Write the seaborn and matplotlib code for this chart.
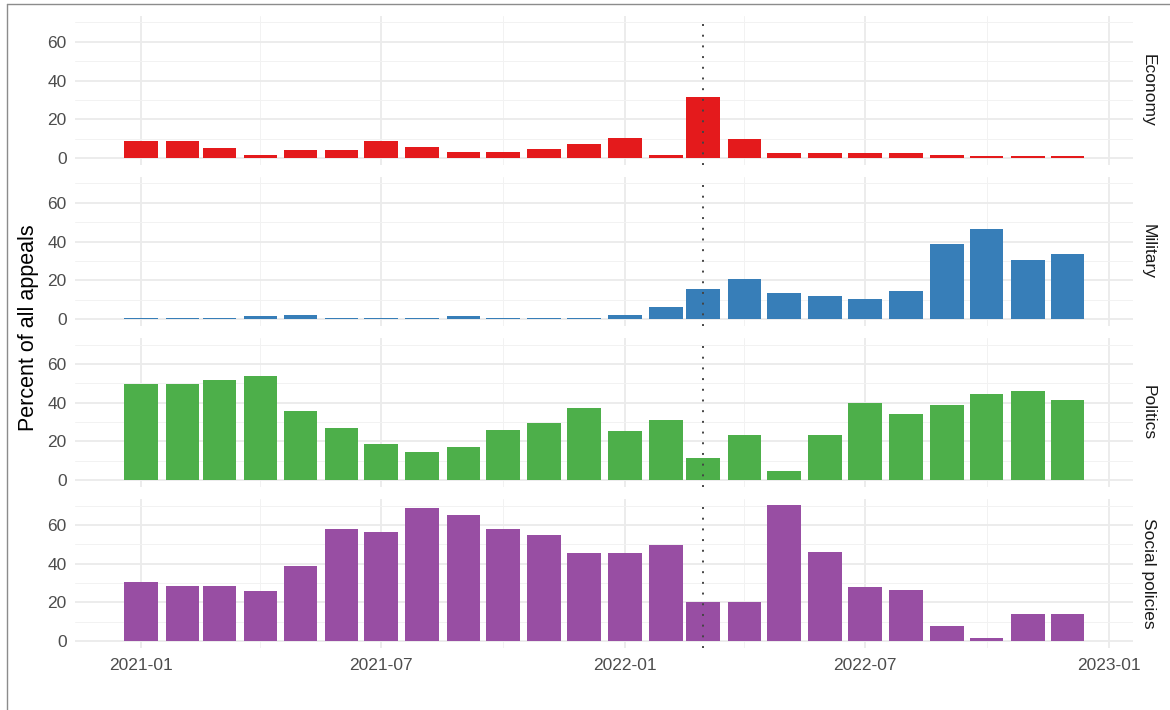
import pandas as pd
import matplotlib
matplotlib.use("Agg")
import matplotlib.pyplot as plt
import matplotlib.dates as mdates
from matplotlib.lines import Line2D
from matplotlib.ticker import MultipleLocator
import seaborn as sns

# monthly share of appeals by topic
months = pd.date_range("2021-01-01", "2022-12-01", freq="MS")
topics = ["Economy", "Military", "Politics", "Social policies"]
economy = [9, 9, 5, 1.7, 3.9, 3.9, 8.9, 5.7, 3.3, 3.3, 4.8, 7.2,
           10.5, 1.5, 31.4, 9.6, 2.4, 2.4, 2.4, 2.4, 1.5, 0.9, 0.9, 0.9]
military = [0.7, 0.3, 0.7, 1.4, 2.2, 0.7, 0.7, 0.7, 1.4, 0.7, 0.7, 0.5,
            2.2, 6.2, 15.3, 20.9, 13.6, 12.1, 10.3, 14.5, 38.8, 46.7, 30.7, 33.8]
politics = [49.7, 49.7, 51.9, 53.8, 35.9, 26.9, 18.6, 14.7, 17.1, 26.0, 29.3, 37.4,
            25.2, 30.9, 11.4, 23.4, 4.8, 23.4, 39.8, 34.1, 39.0, 44.7, 46.2, 41.4]
social = [30.7, 28.3, 28.3, 25.9, 38.6, 58.1, 56.6, 68.6, 65.4, 58.1, 55.1, 45.3,
          45.3, 49.9, 20.1, 20.1, 70.3, 46.0, 28.1, 26.6, 7.9, 1.5, 14.2, 14.2]
colors = ["#E41A1C", "#377EB8", "#4DAF4A", "#984EA3"]
event_date = pd.Timestamp("2022-03-01")

df = pd.concat([
    pd.DataFrame({"month": months, "topic": t, "pct": v})
    for t, v in zip(topics, [economy, military, politics, social])
], ignore_index=True)

sns.set_theme(style="whitegrid")
plt.rcParams["font.family"] = ["Liberation Sans", "DejaVu Sans"]

g = sns.FacetGrid(df, row="topic", hue="topic", palette=colors, row_order=topics,
                  hue_order=topics, sharex=True, sharey=True, margin_titles=True,
                  height=1.5, aspect=7.8)
g.map(plt.bar, "month", "pct", width=25.2, linewidth=0)
g.set_titles(row_template="", col_template="")
g.set_axis_labels("", "")

fig = g.figure
fig.set_size_inches(11.7, 7.1)
fig.subplots_adjust(left=0.064, right=0.968, top=0.978, bottom=0.0873, hspace=0.08)

x_lo = pd.Timestamp("2020-11-12")
x_hi = pd.Timestamp("2023-01-19")
for ax, topic in zip(g.axes.flat, topics):
    ax.set_xlim(x_lo, x_hi)
    ax.set_ylim(-3.5, 73.5)
    ax.yaxis.set_major_locator(MultipleLocator(20))
    ax.yaxis.set_minor_locator(MultipleLocator(10))
    ax.xaxis.set_major_locator(mdates.MonthLocator(bymonth=[1, 7]))
    ax.xaxis.set_minor_locator(mdates.MonthLocator(bymonth=[4, 10]))
    ax.xaxis.set_major_formatter(mdates.DateFormatter("%Y-%m"))
    ax.grid(which="major", color="#EBEBEB", linewidth=1.3)
    ax.grid(which="minor", color="#F2F2F2", linewidth=0.7)
    ax.set_axisbelow(True)
    for s in ax.spines.values():
        s.set_visible(False)
    ax.tick_params(which="both", length=0, labelsize=12.5, labelcolor="#4D4D4D")
    ax.tick_params(axis="y", pad=6)
    ax.tick_params(axis="x", pad=7)
    ax.axvline(event_date, color="#444444", linestyle=(0, (1, 4.5)), linewidth=1.4)
    ax.annotate(topic, xy=(1.015, 0.5), xycoords="axes fraction", rotation=270,
                ha="center", va="center", fontsize=12.5, color="#1A1A1A")
    ax.set_xlabel("")
    ax.set_ylabel("")

fig.text(0.0244, 0.539, "Percent of all appeals", rotation=90, ha="center",
         va="center", fontsize=15.5, color="black")

# thin frame on the top and left edges like the screenshot
fig.add_artist(Line2D([0.006, 1.0], [0.9945, 0.9945], color="#8C8C8C", linewidth=1,
                      transform=fig.transFigure))
fig.add_artist(Line2D([0.0064, 0.0064], [0.0, 0.9945], color="#8C8C8C", linewidth=1,
                      transform=fig.transFigure))

fig.savefig("out.png", dpi=100)
plt.close(fig)
